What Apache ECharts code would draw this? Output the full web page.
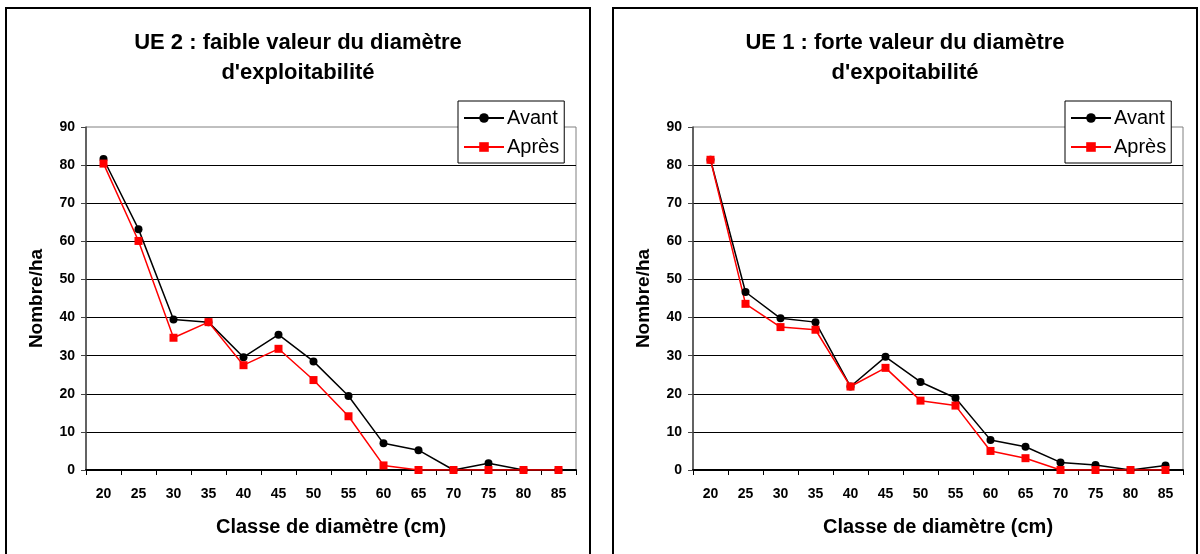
<!DOCTYPE html>
<html>
<head>
<meta charset="utf-8">
<script src="https://cdn.jsdelivr.net/npm/echarts@6/dist/echarts.min.js"></script>
<style>
  body { margin: 0; background: #fff; width: 1200px; height: 554px; overflow: hidden; position: relative; }
  .panel { position: absolute; top: 7px; width: 582px; height: 560px; border: 2px solid #000; background: #fff; }
  #left { left: 5px; }
  #right { left: 612px; }
</style>
</head>
<body>
<div id="left" class="panel"></div>
<div id="right" class="panel"></div>
<script>
const categories = ['20', '25', '30', '35', '40', '45', '50', '55', '60', '65', '70', '75', '80', '85']
const yTicks = [0, 10, 20, 30, 40, 50, 60, 70, 80, 90]

// UE 2 (faible valeur du diamètre d'exploitabilité)
const ue2Avant = [81.6, 63.2, 39.5, 38.8, 29.6, 35.5, 28.5, 19.4, 7.0, 5.2, 0, 1.8, 0, 0]
const ue2Apres = [80.4, 60.1, 34.7, 38.8, 27.5, 31.8, 23.6, 14.1, 1.2, 0, 0, 0, 0, 0]

// UE 1 (forte valeur du diamètre d'expoitabilité)
const ue1Avant = [81.4, 46.7, 39.8, 38.8, 21.9, 29.7, 23.1, 18.9, 7.9, 6.1, 2.0, 1.3, 0, 1.2]
const ue1Apres = [81.4, 43.6, 37.5, 36.8, 21.9, 26.8, 18.2, 16.9, 5.0, 3.1, 0, 0, 0, 0]

const FONT = "'Liberation Sans', Arial, sans-serif"

function makeChart(el, title, avant, apres) {
  const chart = echarts.init(el, null, { renderer: 'canvas' })
  chart.setOption({
    animation: false,
    textStyle: { fontFamily: FONT },
    title: {
      text: title,
      left: 'center',
      top: 14,
      textStyle: { fontFamily: FONT, fontSize: 22, fontWeight: 'bold', color: '#000', lineHeight: 30, align: 'center' },
    },
    legend: {
      orient: 'vertical',
      left: 451,
      top: 92,
      padding: [7, 5, 6, 5],
      itemGap: 9,
      itemWidth: 40,
      itemHeight: 12,
      borderColor: '#000',
      borderWidth: 1,
      backgroundColor: '#fff',
      textStyle: { fontFamily: FONT, fontSize: 20, color: '#000', padding: [0, 0, 0, -2], lineHeight: 20 },
      data: ['Avant', 'Après'],
    },
    grid: {
      left: 79, top: 118, width: 490, height: 343,
      show: true, borderColor: '#808080', borderWidth: 1, backgroundColor: 'transparent',
    },
    xAxis: {
      type: 'category',
      data: categories,
      boundaryGap: true,
      axisLine: { lineStyle: { color: '#000', width: 2 } },
      axisTick: { show: true, inside: false, length: 5, alignWithLabel: false, lineStyle: { color: '#000', width: 1 } },
      axisLabel: { fontFamily: FONT, fontSize: 14, fontWeight: 'bold', color: '#000', margin: 17, interval: 0 },
      name: 'Classe de diamètre (cm)',
      nameLocation: 'middle',
      nameGap: 47,
      nameTextStyle: { fontFamily: FONT, fontSize: 20, fontWeight: 'bold', color: '#000' },
    },
    yAxis: {
      type: 'value',
      min: yTicks[0],
      max: yTicks[yTicks.length - 1],
      interval: 10,
      axisLine: { show: true, lineStyle: { color: '#444', width: 1.5 } },
      axisTick: { show: true, length: 5, lineStyle: { color: '#444', width: 1 } },
      axisLabel: { fontFamily: FONT, fontSize: 14, fontWeight: 'bold', color: '#000', margin: 11 },
      splitLine: { show: true, showMaxLine: false, lineStyle: { color: '#000', width: 1 } },
      name: 'Nombre/ha',
      nameLocation: 'middle',
      nameGap: 40,
      nameTextStyle: { fontFamily: FONT, fontSize: 19, fontWeight: 'bold', color: '#000' },
    },
    series: [
      {
        name: 'Avant',
        type: 'line',
        data: avant,
        symbol: 'circle',
        symbolSize: 8,
        lineStyle: { color: '#000', width: 1.5 },
        itemStyle: { color: '#000' },
      },
      {
        name: 'Après',
        type: 'line',
        data: apres,
        symbol: 'rect',
        symbolSize: 8,
        lineStyle: { color: '#ff0000', width: 1.5 },
        itemStyle: { color: '#ff0000' },
      },
    ],
  })
  return chart
}

makeChart(document.getElementById('left'), "UE 2 : faible valeur du diamètre\nd'exploitabilité", ue2Avant, ue2Apres)
makeChart(document.getElementById('right'), "UE 1 : forte valeur du diamètre\nd'expoitabilité", ue1Avant, ue1Apres)
</script>
</body>
</html>
